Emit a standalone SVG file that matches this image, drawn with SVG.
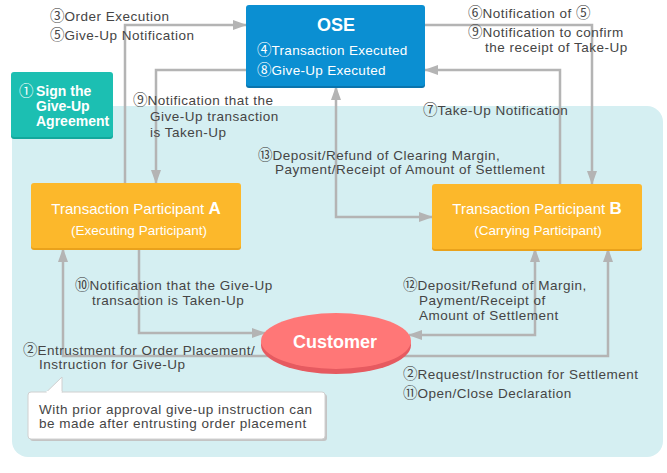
<svg xmlns="http://www.w3.org/2000/svg" width="667" height="473" viewBox="0 0 667 473">
<style>
.lbl{font-family:"Liberation Sans","DejaVu Sans",Arial,sans-serif;font-size:13.5px;fill:#454545;letter-spacing:0.5px}
.wt{font-family:"Liberation Sans","DejaVu Sans",Arial,sans-serif;fill:#ffffff}
.cd{font-family:"Noto Sans CJK JP","Noto Sans CJK SC","DejaVu Sans",sans-serif;letter-spacing:0;font-size:14.5px}
.conn{fill:none;stroke:#b4b4b4;stroke-width:2.5}
</style>
<defs>
<marker id="ah" viewBox="0 0 14 10" refX="13" refY="5" markerWidth="14" markerHeight="10" markerUnits="userSpaceOnUse" orient="auto-start-reverse">
<path d="M0,0 L14,5 L0,10 z" fill="#b4b4b4"/>
</marker>
</defs>
<rect x="0" y="0" width="667" height="473" fill="#ffffff"/>
<rect id="area" x="12" y="106" width="651" height="351" rx="16" fill="#d5eff2"/>

<g id="connectors">
<path class="conn" d="M125,183 V25 H246" marker-end="url(#ah)"/>
<path class="conn" d="M246,70 H156 V183" marker-end="url(#ah)"/>
<path class="conn" d="M425,25 H592 V184" marker-end="url(#ah)"/>
<path class="conn" d="M560,184 V70 H425" marker-end="url(#ah)"/>
<path class="conn" d="M336,87 V217 H432" marker-start="url(#ah)" marker-end="url(#ah)"/>
<path class="conn" d="M139,249 V333 H265" marker-end="url(#ah)"/>
<path class="conn" d="M63,249 V356 H608 V249" marker-start="url(#ah)" marker-end="url(#ah)"/>
<path class="conn" d="M535,249 V335 H409" marker-start="url(#ah)" marker-end="url(#ah)"/>
</g>

<g id="sign">
<rect x="11" y="74" width="102" height="65" rx="3" fill="#12a89c"/>
<rect x="11" y="72" width="102" height="65" rx="3" fill="#1cbfb2"/>
<text class="wt" font-size="14" font-weight="bold"><tspan class="cd" x="19" y="96" font-weight="normal">①</tspan><tspan x="36" y="96">Sign the</tspan><tspan x="36" y="111">Give-Up</tspan><tspan x="36" y="126">Agreement</tspan></text>
</g>

<g id="ose">
<rect x="246" y="7" width="179" height="81" rx="3" fill="#0a74ad"/>
<rect x="246" y="5" width="179" height="81" rx="3" fill="#0b8fd2"/>
<text class="wt" x="336" y="31" font-size="18" font-weight="bold" text-anchor="middle">OSE</text>
<text class="wt" x="257" y="55" font-size="13.5" letter-spacing="0.3"><tspan class="cd">④</tspan>Transaction Executed</text>
<text class="wt" x="257" y="75" font-size="13.5" letter-spacing="0.3"><tspan class="cd">⑧</tspan>Give-Up Executed</text>
</g>

<g id="partA">
<rect x="31" y="185" width="210" height="65" rx="3" fill="#e9a21c"/>
<rect x="31" y="183" width="210" height="65" rx="3" fill="#fcb82b"/>
<text class="wt" x="136" y="214" font-size="15" text-anchor="middle">Transaction Participant <tspan font-size="17" font-weight="bold">A</tspan></text>
<text class="wt" x="139" y="235" font-size="13.5" text-anchor="middle">(Executing Participant)</text>
</g>

<g id="partB">
<rect x="432" y="186" width="210" height="65" rx="3" fill="#e9a21c"/>
<rect x="432" y="184" width="210" height="65" rx="3" fill="#fcb82b"/>
<text class="wt" x="537" y="214" font-size="15" text-anchor="middle">Transaction Participant <tspan font-size="17" font-weight="bold">B</tspan></text>
<text class="wt" x="538" y="235" font-size="13.5" text-anchor="middle">(Carrying Participant)</text>
</g>

<g id="customer">
<ellipse cx="336" cy="345" rx="75" ry="29" fill="#e65a60"/>
<ellipse cx="336" cy="341" rx="75" ry="28" fill="#ff7777"/>
<text class="wt" x="335" y="348" font-size="18" font-weight="bold" text-anchor="middle">Customer</text>
</g>

<g id="callout">
<rect x="30" y="394" width="297" height="47" rx="3" fill="#c4c4c4"/>
<rect x="28" y="392" width="297" height="47" rx="3" fill="#ffffff" stroke="#d0d0d0" stroke-width="1"/>
<path d="M46,392.5 L62,377 L62,392.5" fill="#ffffff" stroke="#d0d0d0" stroke-width="1"/>
<rect x="46.5" y="391" width="15" height="3" fill="#ffffff"/>
<text class="lbl" x="39" y="414">With prior approval give-up instruction can</text>
<text class="lbl" x="39" y="428">be made after entrusting order placement</text>
</g>

<g id="labels">
<text class="lbl" x="50" y="21"><tspan class="cd">③</tspan>Order Execution</text>
<text class="lbl" x="50" y="40"><tspan class="cd">⑤</tspan>Give-Up Notification</text>
<text class="lbl" x="133" y="105"><tspan class="cd">⑨</tspan>Notification that the</text>
<text class="lbl" x="150" y="121">Give-Up transaction</text>
<text class="lbl" x="150" y="137">is Taken-Up</text>
<text class="lbl" x="468" y="18"><tspan class="cd">⑥</tspan>Notification of <tspan class="cd">⑤</tspan></text>
<text class="lbl" x="468" y="37"><tspan class="cd">⑨</tspan>Notification to confirm</text>
<text class="lbl" x="485" y="52">the receipt of Take-Up</text>
<text class="lbl" x="423" y="115"><tspan class="cd">⑦</tspan>Take-Up Notification</text>
<text class="lbl" x="258" y="160"><tspan class="cd">⑬</tspan>Deposit/Refund of Clearing Margin,</text>
<text class="lbl" x="275" y="174">Payment/Receipt of Amount of Settlement</text>
<text class="lbl" x="75" y="290"><tspan class="cd">⑩</tspan>Notification that the Give-Up</text>
<text class="lbl" x="92" y="305">transaction is Taken-Up</text>
<text class="lbl" x="403" y="290"><tspan class="cd">⑫</tspan>Deposit/Refund of Margin,</text>
<text class="lbl" x="419" y="305">Payment/Receipt of</text>
<text class="lbl" x="419" y="320">Amount of Settlement</text>
<text class="lbl" x="23" y="355"><tspan class="cd">②</tspan>Entrustment for Order Placement/</text>
<text class="lbl" x="39" y="369">Instruction for Give-Up</text>
<text class="lbl" x="403" y="379"><tspan class="cd">②</tspan>Request/Instruction for Settlement</text>
<text class="lbl" x="403" y="398"><tspan class="cd">⑪</tspan>Open/Close Declaration</text>
</g>
</svg>
